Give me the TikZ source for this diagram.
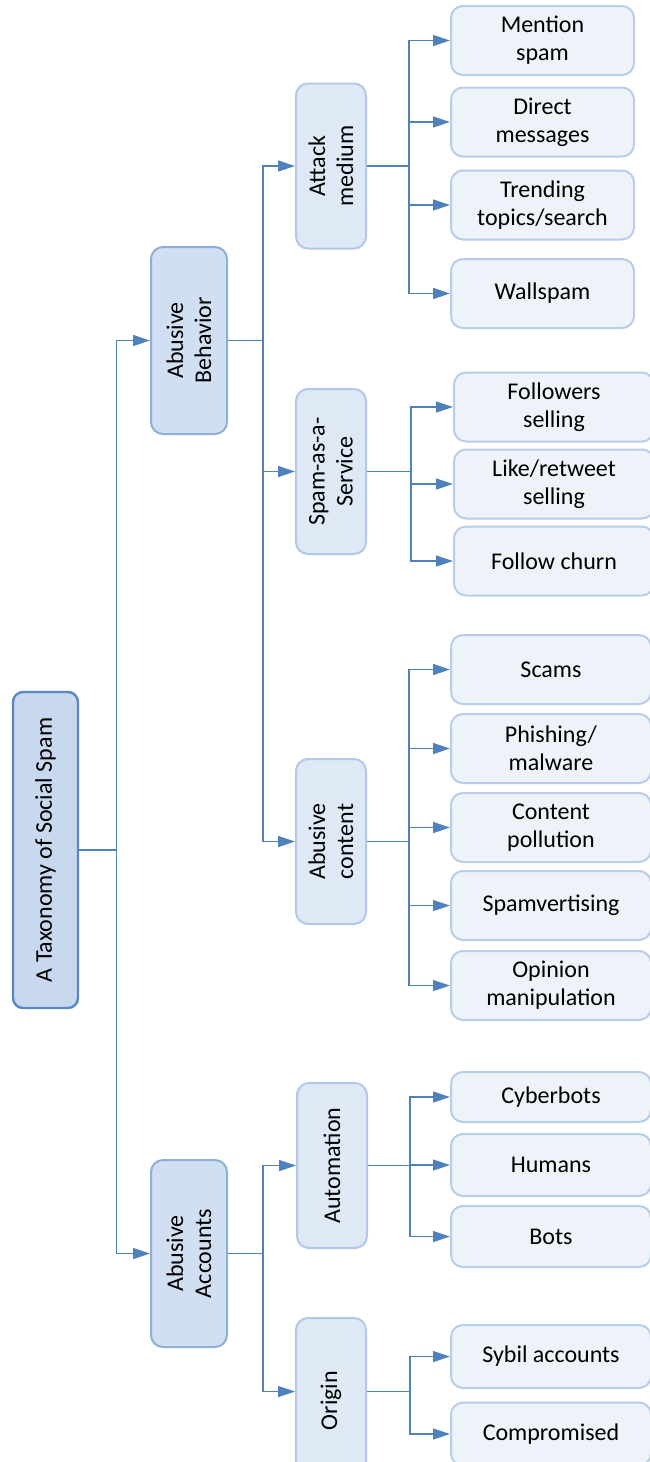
\documentclass[tikz,border=0pt]{standalone}
\usepackage{fontspec}
\setmainfont{Carlito}
\usepackage{tikz}
\usetikzlibrary{arrows.meta, positioning}
\definecolor{rootfill}{HTML}{C8D8EE}
\definecolor{rootdraw}{HTML}{5A86C2}
\definecolor{catfill}{HTML}{D0DFF1}
\definecolor{catdraw}{HTML}{8FAED8}
\definecolor{subfill}{HTML}{DFE9F6}
\definecolor{subdraw}{HTML}{B3C8E6}
\definecolor{leaffill}{HTML}{EEF3FA}
\definecolor{leafdraw}{HTML}{B8CDE8}
\definecolor{linkblue}{HTML}{4F81BD}

\begin{document}
\begin{tikzpicture}[
    x=1pt, y=-1pt,
    every node/.style={font=\fontsize{24}{28}\selectfont, align=center, inner sep=2pt},
    root/.style={rectangle, rounded corners=10pt, draw=rootdraw, fill=rootfill, line width=2.4pt, rotate=90, minimum width=316pt, minimum height=65pt},
    cat/.style={rectangle, rounded corners=12pt, draw=catdraw, fill=catfill, line width=2pt, rotate=90, minimum width=187pt, minimum height=76pt},
    sub/.style={rectangle, rounded corners=12pt, draw=subdraw, fill=subfill, line width=2pt, rotate=90, minimum width=165pt, minimum height=70pt},
    leaf/.style={rectangle, rounded corners=12pt, draw=leafdraw, fill=leaffill, line width=2pt, minimum width=183pt, minimum height=69pt},
    wideleaf/.style={leaf, minimum width=200pt},
    arrow/.style={line width=1.3pt, -{Triangle[length=17pt, width=11pt]}, color=linkblue}
]
\path[use as bounding box, clip] (0,0) rectangle (650,1462);

\node[root] (root) at (45.5,850) {A Taxonomy of Social Spam};

\node[cat] (behav) at (189,340.5) {Abusive\\Behavior};
\node[cat] (accts) at (189,1253.5) {Abusive\\Accounts};

\draw[arrow] (root.south) -- ++(37,0) |- (behav.north);
\draw[arrow] (root.south) -- ++(37,0) |- (accts.north);

% Abusive behavior
\node[sub] (medium)  at (331,166)   {Attack\\medium};
\node[sub] (service) at (331,471.5) {Spam-as-a-\\Service};
\node[sub] (content) at (331,841.5) {Abusive\\content};

\draw[arrow] (behav.south) -- ++(35,0) |- (medium.north);
\draw[arrow] (behav.south) -- ++(35,0) |- (service.north);
\draw[arrow] (behav.south) -- ++(35,0) |- (content.north);

\node[leaf] (mention)  at (542.5,40.5)  {Mention\\spam};
\node[leaf] (direct)   at (542.5,122)   {Direct\\messages};
\node[leaf] (trending) at (542.5,205)   {Trending\\topics/search};
\node[leaf] (wall)     at (542.5,293.5) {Wallspam};

\foreach \n in {mention, direct, trending, wall}
    \draw[arrow] (medium.south) -- ++(42,0) |- (\n.west);

\node[wideleaf] (followers) at (554,407) {Followers\\selling};
\node[wideleaf] (likes)     at (554,484) {Like/retweet\\selling};
\node[wideleaf] (churn)     at (554,561) {Follow churn};

\foreach \n in {followers, likes, churn}
    \draw[arrow] (service.south) -- ++(44,0) |- (\n.west);

\node[wideleaf] (scams)     at (551,669.5) {Scams};
\node[wideleaf] (phishing)  at (551,748.5) {Phishing/\\malware};
\node[wideleaf] (pollution) at (551,827.5) {Content\\pollution};
\node[wideleaf] (spamvert)  at (551,905.5) {Spamvertising};
\node[wideleaf] (opinion)   at (551,985.5) {Opinion\\manipulation};

\foreach \n in {scams, phishing, pollution, spamvert, opinion}
    \draw[arrow] (content.south) -- ++(42,0) |- (\n.west);

% Abusive accounts
\node[sub] (automation) at (332,1165.5) {Automation};
\node[sub] (origin)     at (331,1400.5) {Origin};

\draw[arrow] (accts.south) -- ++(35,0) |- (automation.north);
\draw[arrow] (accts.south) -- ++(35,0) |- ([yshift=9pt]origin.north);

\node[wideleaf, minimum height=50pt] (cyber)  at (551,1097)   {Cyberbots};
\node[wideleaf, minimum height=62pt] (humans) at (551,1165)   {Humans};
\node[wideleaf, minimum height=61pt] (bots)   at (551,1236.5) {Bots};

\foreach \n in {cyber, humans, bots}
    \draw[arrow] (automation.south) -- ++(42,0) |- (\n.west);

\node[wideleaf, minimum height=63pt] (sybil)  at (551,1356.5) {Sybil accounts};
\node[wideleaf, minimum height=63pt] (compro) at (551,1434)   {Compromised};

\draw[arrow] ([yshift=9pt]origin.south) -- ++(43,0) |- (sybil.west);
\draw[arrow] ([yshift=9pt]origin.south) -- ++(43,0) |- (compro.west);

\end{tikzpicture}
\end{document}
